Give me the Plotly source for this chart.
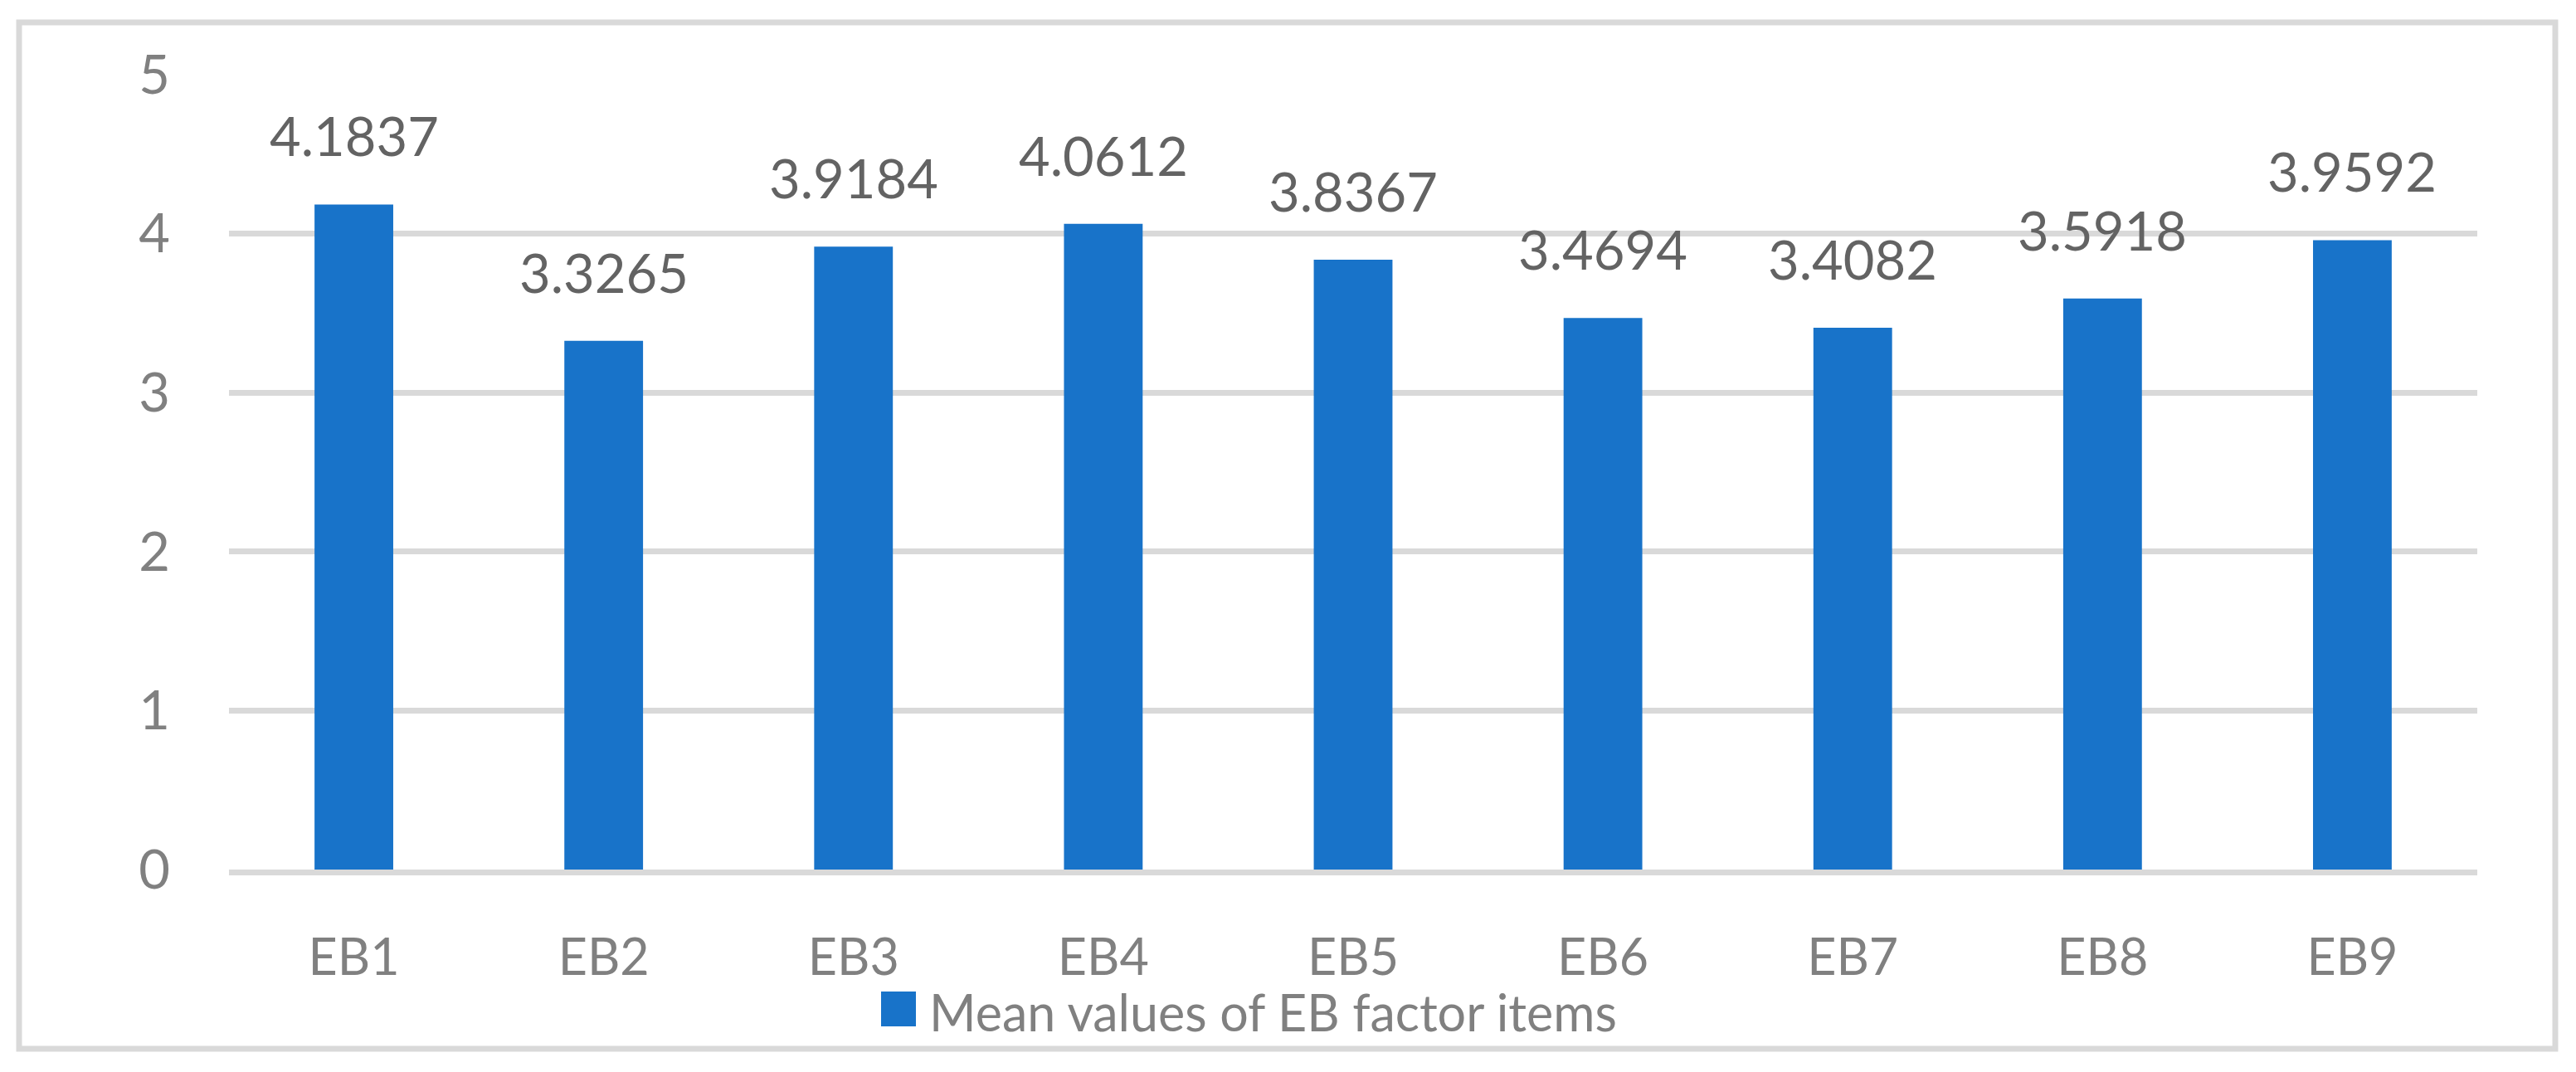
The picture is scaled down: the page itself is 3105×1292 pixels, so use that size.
import plotly.graph_objects as go

categories = ["EB1", "EB2", "EB3", "EB4", "EB5", "EB6", "EB7", "EB8", "EB9"]
mean_values = [4.1837, 3.3265, 3.9184, 4.0612, 3.8367, 3.4694, 3.4082, 3.5918, 3.9592]
value_labels = ["4.1837", "3.3265", "3.9184", "4.0612", "3.8367", "3.4694", "3.4082", "3.5918", "3.9592"]
y_ticks = [0, 1, 2, 3, 4, 5]
series_name = "Mean values of EB factor items"

# page offset of the figure inside the browser (default body margin)
OFF = 8
W, H = 3105 - OFF, 1292 - OFF
ML, MR, MT, MB = 276 - OFF, 119, 90 - OFF, 244
PW, PH = W - ML - MR, H - MT - MB

def px_x(px):
    return (px - OFF - ML) / PW

def px_y(py):
    return (H - MB - (py - OFF)) / PH

BAR_COLOR = "#1873C9"
GRID = "#D9D9D9"
FONT = "Lato"

fig = go.Figure()
fig.add_trace(go.Bar(
    x=categories, y=mean_values, name=series_name,
    marker=dict(color=BAR_COLOR, line=dict(width=0)),
    showlegend=False, hoverinfo="x+y",
))

annotations = []
for c, v, t in zip(categories, mean_values, value_labels):
    annotations.append(dict(
        x=c, y=v, xref="x", yref="y", text=t, showarrow=False,
        yanchor="bottom", yshift=42,
        font=dict(family=FONT, size=65, color="#636363"),
    ))

# legend (manual, to match the large swatch)
annotations.append(dict(
    x=px_x(1118), y=px_y(1219), xref="paper", yref="paper",
    text=series_name, showarrow=False, xanchor="left", yanchor="middle",
    font=dict(family=FONT, size=61, color="#808080"),
))

shapes = [
    dict(type="rect", xref="paper", yref="paper",
         x0=px_x(23), x1=px_x(3080), y0=px_y(1264), y1=px_y(27),
         line=dict(color=GRID, width=7), fillcolor="rgba(0,0,0,0)", layer="below"),
    dict(type="rect", xref="paper", yref="paper",
         x0=px_x(1062), x1=px_x(1104), y0=px_y(1237), y1=px_y(1195),
         line=dict(width=0), fillcolor=BAR_COLOR),
]

fig.update_layout(
    width=W, height=H,
    margin=dict(l=ML, r=MR, t=MT, b=MB, pad=0),
    paper_bgcolor="white", plot_bgcolor="white",
    bargap=0.685,
    annotations=annotations, shapes=shapes,
    showlegend=False,
    font=dict(family=FONT, size=65, color="#808080"),
)
fig.update_xaxes(
    showgrid=False, showline=True, linecolor=GRID, linewidth=7,
    ticks="", ticklabelstandoff=47,
    tickfont=dict(family=FONT, size=61, color="#808080"),
)
fig.update_yaxes(
    range=[0, 5], tickvals=y_ticks, showgrid=True, gridcolor=GRID, gridwidth=7,
    zeroline=False, showline=False, ticks="", ticklabelstandoff=70,
    tickfont=dict(family=FONT, size=65, color="#808080"),
)

fig.write_html("out.html")
